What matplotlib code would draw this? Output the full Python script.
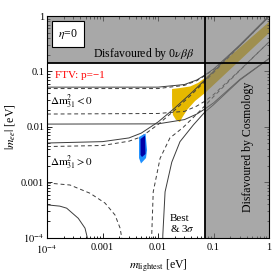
import matplotlib
matplotlib.use("Agg")
import matplotlib.pyplot as plt
from matplotlib.patches import Polygon
from matplotlib.ticker import FixedLocator, FixedFormatter, NullFormatter, LogLocator

plt.rcParams["font.family"] = ["Liberation Serif", "DejaVu Serif"]
plt.rcParams["mathtext.fontset"] = "stix"

# experimental limits (eV)
MEE_LIMIT = 0.14
COSMO_LIMIT = 0.07

TICKS = [1e-4, 1e-3, 1e-2, 1e-1, 1.0]
TICK_LABELS = [r"$10^{-4}$", "0.001", "0.01", "0.1", "1"]

# inverted ordering (Delta m^2_31 < 0): upper / lower edges, best fit and 3 sigma
IO_X = [1e-4, 0.01, 0.03, 0.05, 0.07, 0.1, 0.3, 1.0]
IO_MAX_3S = [0.052, 0.052, 0.058, 0.070, 0.086, 0.11, 0.30, 1.0]
IO_MAX_BEST = [0.049, 0.049, 0.056, 0.068, 0.084, 0.107, 0.29, 0.97]
IO_MIN_3S = [0.0112, 0.0113, 0.0135, 0.017, 0.021, 0.027, 0.072, 0.17]
IO_MIN_BEST = [0.017, 0.0174, 0.019, 0.0237, 0.029, 0.038, 0.106, 0.34]

# normal ordering (Delta m^2_31 > 0): upper edge
NO_X = [1e-4, 1e-3, 3e-3, 5e-3, 0.01, 0.02, 0.04, 0.07, 0.1, 0.3, 1.0]
NO_MAX_3S = [0.0051, 0.0054, 0.0063, 0.0077, 0.0122, 0.0218, 0.041, 0.070, 0.10, 0.30, 1.0]
NO_MAX_BEST = [0.0044, 0.0046, 0.0055, 0.0066, 0.011, 0.020, 0.038, 0.066, 0.095, 0.29, 0.97]

# normal ordering lower edge, left branch (falls to zero)
NO_MINL_BEST_X = [1e-4, 2.6e-4, 6.0e-4, 1.11e-3, 1.68e-3, 2.07e-3, 2.22e-3, 2.25e-3]
NO_MINL_BEST_Y = [9.7e-4, 8.9e-4, 6.3e-4, 4.2e-4, 2.56e-4, 1.49e-4, 1.0e-4, 5e-5]
NO_MINL_3S_X = [1e-4, 1.7e-4, 2.26e-4, 3.66e-4, 4.84e-4, 5.32e-4, 5.4e-4]
NO_MINL_3S_Y = [3.9e-4, 3.7e-4, 3.4e-4, 2.23e-4, 1.48e-4, 1.0e-4, 5e-5]

# normal ordering lower edge, right branch (rises from zero)
NO_MINR_BEST_X = [7.6e-3, 7.7e-3, 8.2e-3, 0.0109, 0.0164, 0.0282, 0.05, 0.07, 0.1, 0.3, 1.0]
NO_MINR_BEST_Y = [5e-5, 1.1e-4, 6.7e-4, 0.0027, 0.0063, 0.0097, 0.017, 0.024, 0.035, 0.105, 0.34]
NO_MINR_3S_X = [0.0121, 0.0122, 0.0134, 0.0177, 0.0249, 0.0433, 0.07, 0.1, 0.3, 1.0]
NO_MINR_3S_Y = [5e-5, 1.1e-4, 6.7e-4, 0.0023, 0.0054, 0.0108, 0.0185, 0.025, 0.07, 0.17]

# FTV p=-1 allowed region (yellow)
FTV_X = [0.0179, 0.0249, 0.0378, 0.0526, 0.0703, 1.0, 1.0, 0.0703, 0.0465, 0.0333,
         0.027, 0.0249, 0.0211, 0.0186, 0.0179]
FTV_Y = [0.0481, 0.0501, 0.0534, 0.0618, 0.076, 0.78, 0.493, 0.0408, 0.0292, 0.0201,
         0.0144, 0.0122, 0.0133, 0.0163, 0.0248]

# second allowed island (blue): outer and inner contour
BLUE_OUT_X = [4.55e-3, 5.96e-3, 6.34e-3, 6.08e-3, 4.94e-3, 4.55e-3]
BLUE_OUT_Y = [0.00655, 0.00757, 0.00381, 0.00273, 0.00218, 0.00273]
BLUE_IN_X = [4.84e-3, 5.83e-3, 5.96e-3, 5.15e-3, 4.84e-3]
BLUE_IN_Y = [0.00602, 0.00697, 0.00323, 0.00285, 0.0031]

LINE = "#3c3c3c"
DASH = (0, (4, 3))

fig = plt.figure(figsize=(2.73, 2.74), dpi=100)
ax = fig.add_axes([0.1722, 0.1328, 0.8132, 0.8088])
ax.set_xscale("log")
ax.set_yscale("log")
ax.set_xlim(1e-4, 1.0)
ax.set_ylim(1e-4, 1.0)

ax.add_patch(Polygon(list(zip(FTV_X, FTV_Y)), closed=True, facecolor="#e6b800",
                     edgecolor="none", zorder=1))

kw = dict(color=LINE, lw=0.7, zorder=2)
ax.plot(IO_X, IO_MAX_3S, **kw)
ax.plot(IO_X, IO_MAX_BEST, ls=DASH, **kw)
ax.plot(IO_X, IO_MIN_3S, **kw)
ax.plot(IO_X, IO_MIN_BEST, ls=DASH, **kw)
ax.plot(NO_X, NO_MAX_3S, **kw)
ax.plot(NO_X, NO_MAX_BEST, ls=DASH, **kw)
ax.plot(NO_MINL_3S_X, NO_MINL_3S_Y, **kw)
ax.plot(NO_MINL_BEST_X, NO_MINL_BEST_Y, ls=DASH, **kw)
ax.plot(NO_MINR_3S_X, NO_MINR_3S_Y, **kw)
ax.plot(NO_MINR_BEST_X, NO_MINR_BEST_Y, ls=DASH, **kw)

ax.add_patch(Polygon(list(zip(BLUE_OUT_X, BLUE_OUT_Y)), closed=True,
                     facecolor="#1e90ff", edgecolor="none", zorder=3))
ax.add_patch(Polygon(list(zip(BLUE_IN_X, BLUE_IN_Y)), closed=True,
                     facecolor="#0000a8", edgecolor="none", zorder=3))

# disfavoured area: one L-shaped patch so the corner is not shaded twice
excl = [(1e-4, MEE_LIMIT), (COSMO_LIMIT, MEE_LIMIT), (COSMO_LIMIT, 1e-4),
        (1.0, 1e-4), (1.0, 1.0), (1e-4, 1.0)]
ax.add_patch(Polygon(excl, closed=True, facecolor="#7a7a7a", alpha=0.65,
                     edgecolor="none", zorder=4))
ax.axhline(MEE_LIMIT, color="black", lw=1.3, zorder=5)
ax.axvline(COSMO_LIMIT, color="black", lw=1.3, zorder=5)

ax.text(0.095, 0.918, r"$\eta$=0", transform=ax.transAxes, fontsize=8.5,
        ha="center", va="center", zorder=6,
        bbox=dict(boxstyle="square,pad=0.5", fc="white", ec="black", lw=0.8))
ax.text(0.437, 0.829, r"Disfavoured by 0$\nu\beta\beta$", transform=ax.transAxes,
        fontsize=8.5, ha="center", va="center", zorder=6)
ax.text(0.905, 0.409, "Disfavoured by Cosmology", transform=ax.transAxes,
        fontsize=8.5, ha="center", va="center", rotation=90, zorder=6)
ax.text(0.036, 0.731, "FTV: p=\u22121", transform=ax.transAxes, fontsize=8,
        color="red", ha="left", va="center", zorder=6)
ax.text(0.014, 0.613, r"$\Delta\mathrm{m}^2_{31} < 0$", transform=ax.transAxes,
        fontsize=8, ha="left", va="center", zorder=6)
ax.text(0.014, 0.335, r"$\Delta\mathrm{m}^2_{31} > 0$", transform=ax.transAxes,
        fontsize=8, ha="left", va="center", zorder=6)
ax.text(0.554, 0.084, "Best", transform=ax.transAxes, fontsize=8,
        ha="left", va="center", zorder=6)
ax.text(0.554, 0.039, r"& 3$\sigma$", transform=ax.transAxes, fontsize=8,
        ha="left", va="center", zorder=6)

for axis in (ax.xaxis, ax.yaxis):
    axis.set_major_locator(FixedLocator(TICKS))
    axis.set_major_formatter(FixedFormatter(TICK_LABELS))
    axis.set_minor_locator(LogLocator(base=10, subs=range(2, 10)))
    axis.set_minor_formatter(NullFormatter())
ax.tick_params(which="both", direction="in", top=True, right=True, labelsize=7.5,
               width=0.6)
ax.tick_params(axis="x", pad=4)
ax.tick_params(axis="y", pad=2)
ax.tick_params(which="major", length=3.5)
ax.tick_params(which="minor", length=1.8)
for sp in ax.spines.values():
    sp.set_linewidth(0.8)
    sp.set_zorder(6)

ax.set_xlabel(r"$m_{\mathrm{lightest}}$ [eV]", fontsize=8.5, labelpad=1)
ax.set_ylabel(r"$|m_{ee}|$ [eV]", fontsize=8.5, labelpad=3)

fig.savefig("out.png", dpi=100)
